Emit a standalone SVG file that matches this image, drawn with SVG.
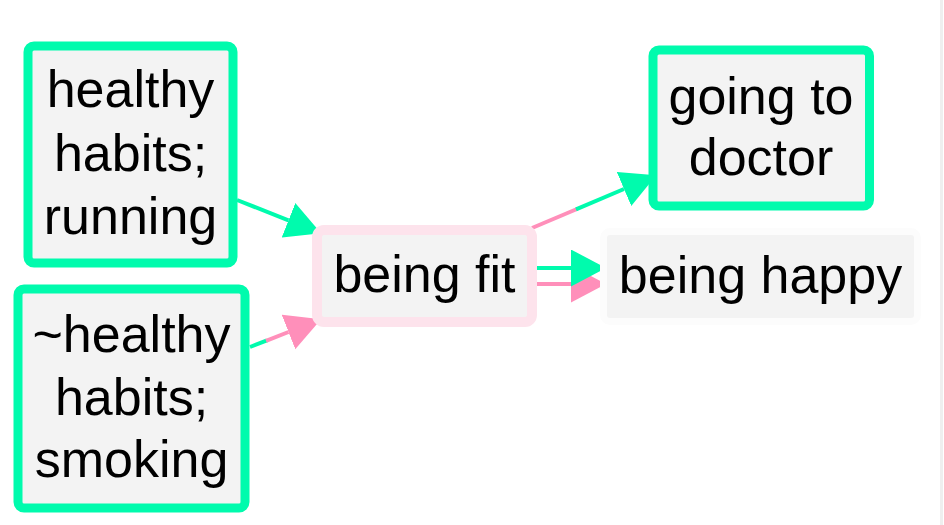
<svg xmlns="http://www.w3.org/2000/svg" width="944" height="525" viewBox="0 0 944 525">
<style>
  .lbl { font-family: "Liberation Sans", Arial, sans-serif; font-size: 52px; fill: #000; text-anchor: middle; }
  .box { fill: #f3f3f3; stroke: #00fbad; stroke-width: 9; }
  .fit { fill: #f3f3f3; stroke: #fde3ec; stroke-width: 10; }
  .plain { fill: #f3f3f3; stroke: #fcfcfc; stroke-width: 14; paint-order: stroke; }
  .eg { stroke: #00fbad; stroke-width: 4; fill: none; }
  .ep { stroke: #ff8fba; stroke-width: 4; fill: none; }
</style>
<defs>
  <marker id="ag" markerUnits="userSpaceOnUse" markerWidth="36" markerHeight="38" refX="0" refY="18.5" orient="auto" viewBox="0 0 36 38">
    <path d="M0,0 L35,18.5 L0,37 Z" fill="#00fbad"/>
  </marker>
  <marker id="ap" markerUnits="userSpaceOnUse" markerWidth="36" markerHeight="38" refX="0" refY="18.5" orient="auto" viewBox="0 0 36 38">
    <path d="M0,0 L35,18.5 L0,37 Z" fill="#ff8fba"/>
  </marker>
</defs>
<rect x="0" y="0" width="944" height="525" fill="#ffffff"/>
<rect x="940" y="0" width="3" height="525" fill="#efefef"/>
<g id="connectors">
  <line class="eg" x1="237" y1="200" x2="288.5" y2="220.3" marker-end="url(#ag)"/>
  <line class="eg" x1="250" y1="347" x2="267" y2="340.4"/>
  <line class="ep" x1="266" y1="340.8" x2="288.5" y2="332" marker-end="url(#ap)"/>
  <line class="ep" x1="532" y1="228" x2="577" y2="209"/>
  <line class="eg" x1="576" y1="209.4" x2="624" y2="189" marker-end="url(#ag)"/>
  <line class="ep" x1="536" y1="284" x2="571" y2="284" marker-end="url(#ap)"/>
  <line class="eg" x1="536" y1="268" x2="571" y2="268" marker-end="url(#ag)"/>
</g>
<g id="node-healthy-running">
  <rect class="box" x="28" y="46" width="205" height="217" rx="6"/>
  <text class="lbl" x="130.5" y="107">healthy</text>
  <text class="lbl" x="130.5" y="170.5">habits;</text>
  <text class="lbl" x="130.5" y="234">running</text>
</g>
<g id="node-healthy-smoking">
  <rect class="box" x="18" y="289" width="227" height="219" rx="6"/>
  <text class="lbl" x="131.5" y="352">~healthy</text>
  <text class="lbl" x="131.5" y="414.5">habits;</text>
  <text class="lbl" x="131.5" y="477">smoking</text>
</g>
<g id="node-being-fit">
  <rect class="fit" x="317" y="230" width="215" height="92" rx="7"/>
  <text class="lbl" x="424.5" y="292">being fit</text>
</g>
<g id="node-doctor">
  <rect class="box" x="653" y="50" width="216.5" height="156" rx="6"/>
  <text class="lbl" x="761" y="113.5">going to</text>
  <text class="lbl" x="761" y="175">doctor</text>
</g>
<g id="node-being-happy">
  <rect class="plain" x="607" y="235" width="307" height="83" rx="3"/>
  <text class="lbl" x="760.5" y="292.5">being happy</text>
</g>
</svg>
